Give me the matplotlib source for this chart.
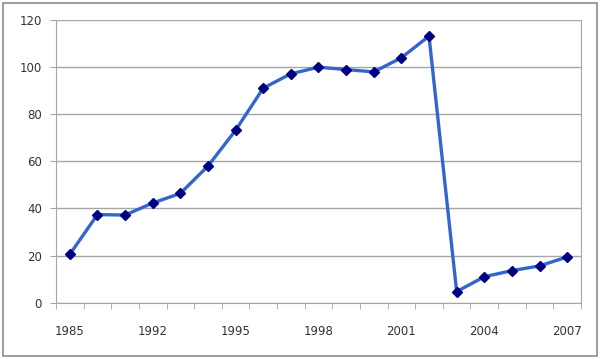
import numpy as np
import matplotlib
matplotlib.use("Agg")
import matplotlib.pyplot as plt
from matplotlib.patches import FancyBboxPatch

# categories (Excel-style category axis, labels every 3rd)
years = ["1985", "1990", "1991", "1992", "1993", "1994", "1995", "1996", "1997", "1998",
         "1999", "2000", "2001", "2002", "2003", "2004", "2005", "2006", "2007"]
values = [20.5, 37.4, 37.2, 42.3, 46.4, 58.0, 73.2, 91.1, 97.2, 100.0,
          99.0, 98.0, 104.0, 113.2, 4.7, 11.0, 13.6, 15.6, 19.4]
yticks = [0, 20, 40, 60, 80, 100, 120]

fig = plt.figure(figsize=(6, 3.59), dpi=100)
fig.patches.append(FancyBboxPatch((0.005, 0.008), 0.99, 0.985, boxstyle="square,pad=0",
                                  transform=fig.transFigure, fill=False,
                                  edgecolor="#8c8c8c", linewidth=1.2))
ax = fig.add_axes([0.0933, 0.157, 0.875, 0.787])

x = np.arange(len(years))
ax.plot(x, values, color="#3366cc", linewidth=2.4, marker="D", markersize=4.6,
        markerfacecolor="#000080", markeredgecolor="#000080", zorder=3)

ax.set_xlim(-0.5, len(years) - 0.5)
ax.set_ylim(0, 120)
ax.set_yticks(yticks)
ax.yaxis.grid(True, color="#a6a6a6", linewidth=1)
ax.set_axisbelow(True)

# label every 3rd category; ticks at category boundaries
ax.set_xticks(x[::3])
ax.set_xticklabels(years[::3])
ax.set_xticks(np.arange(len(years) + 1) - 0.5, minor=True)
ax.tick_params(axis="x", which="major", length=0, pad=16, labelsize=8.5, labelcolor="#333333")
ax.tick_params(axis="x", which="minor", length=4, color="#a6a6a6")
ax.tick_params(axis="y", length=4, color="#a6a6a6", pad=6, labelsize=8.5, labelcolor="#333333")

for side in ["left", "right", "bottom"]:
    ax.spines[side].set_color("#a6a6a6")
ax.spines["top"].set_visible(False)

fig.savefig("out.png", dpi=100)
